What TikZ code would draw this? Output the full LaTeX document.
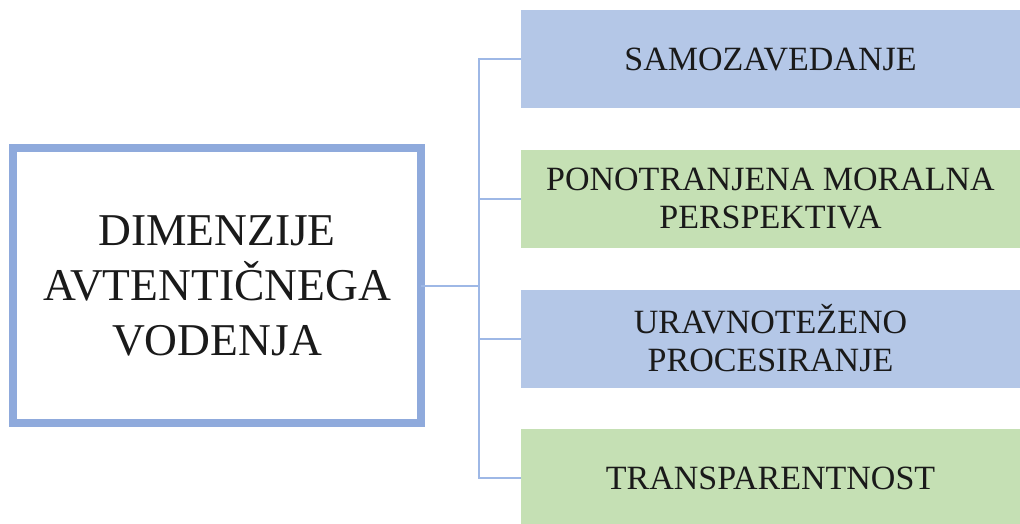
\documentclass[tikz,border=0pt]{standalone}
\usepackage{fontspec}
\setmainfont{Liberation Serif}
\definecolor{bbox}{HTML}{B4C7E7}
\definecolor{gbox}{HTML}{C5E0B4}
\definecolor{bline}{HTML}{8FAADC}
\definecolor{cline}{HTML}{9EB8E6}
\definecolor{txt}{HTML}{1A1A1A}
\begin{document}
\begin{tikzpicture}[x=1pt,y=-1pt,
  dimbox/.style={draw=bline, line width=8pt, fill=white, minimum width=408pt, minimum height=275pt, inner sep=0pt, outer sep=0pt, align=center, text=txt, font=\fontsize{45.5}{55}\selectfont},
  itembox/.style={minimum width=499pt, minimum height=98pt, inner sep=0pt, outer sep=0pt, align=center, text=txt, font=\fontsize{34}{38}\selectfont},
  bluebox/.style={itembox, fill=bbox},
  greenbox/.style={itembox, fill=gbox},
  conn/.style={draw=cline, line width=2pt}]
\useasboundingbox (0,0) rectangle (1020,524);
\clip (0,0) rectangle (1020,524);
\node[dimbox] (dim) at (217,285.5) {DIMENZIJE\\AVTENTIČNEGA\\VODENJA};
\node[bluebox] (b1) at (770.5,59.5) {SAMOZAVEDANJE};
\node[greenbox] (b2) at (770.5,199) {PONOTRANJENA MORALNA\\PERSPEKTIVA};
\node[bluebox] (b3) at (770.5,338.5) {URAVNOTEŽENO\\PROCESIRANJE};
\node[greenbox] (b4) at (770.5,478) {TRANSPARENTNOST};
\coordinate (j) at (479,285.5);
\draw[conn] (dim.east) -- (j);
\draw[conn] (j) |- (b1.west);
\draw[conn] (j) |- (b2.west);
\draw[conn] (j) |- (b3.west);
\draw[conn] (j) |- (b4.west);
\end{tikzpicture}
\end{document}
